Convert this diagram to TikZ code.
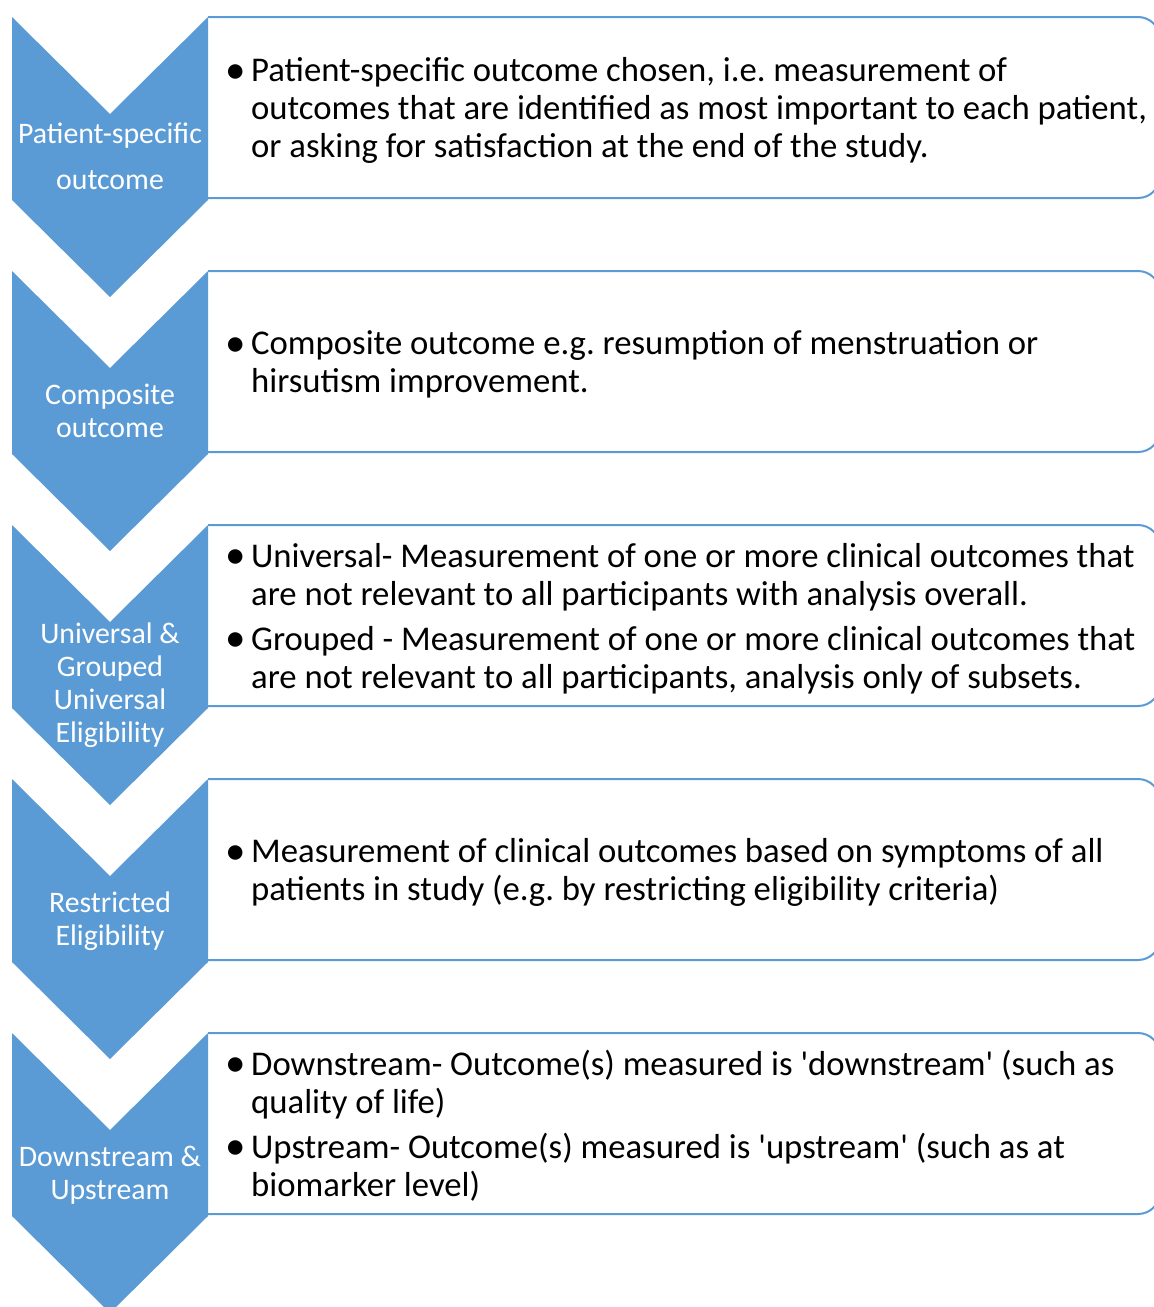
\documentclass[tikz,border=0pt]{standalone}
\usepackage{fontspec}
\setmainfont{Carlito}
\usepackage{xcolor}
\definecolor{stepblue}{RGB}{91,155,213}
\usetikzlibrary{positioning}

\newcommand{\bul}{\makebox[22pt][l]{\hspace{-4pt}\raisebox{-1.5pt}{\fontsize{41}{38}\selectfont\textbullet}}}

\tikzset{
  chevron/.style={fill=stepblue,draw=none},
  descframe/.style={draw=stepblue,line width=2pt,rounded corners=22pt},
  steplabel/.style={text=white,align=center,inner sep=0pt,
                    font=\fontsize{29.8}{33}\selectfont},
  desctext/.style={anchor=west,inner sep=0pt,
                   font=\fontsize{34.7}{38}\selectfont\frenchspacing}
}

\begin{document}
\begin{tikzpicture}[x=1pt,y=-1pt]
  \useasboundingbox (0,0) rectangle (1154,1307);
  \clip (0,0) rectangle (1154,1307);

  % chevrons and frames
  \foreach \t in {17,271,525,779,1033} {
    \fill[chevron] (12,\t) -- (110,\t+97) -- (208,\t) -- (208,\t+183)
      -- (110,\t+280) -- (12,\t+183) -- cycle;
    \draw[descframe] (208,\t) -- (1160,\t) -- (1160,\t+181) -- (208,\t+181);
  }

  % step labels
  \node[steplabel] (patient) at (110,156) {Patient-specific\\[13pt]outcome};
  \node[steplabel] (composite) at (110,411) {Composite\\outcome};
  \node[steplabel] (universal) at (110,685) {Universal \&\\Grouped\\Universal\\Eligibility};
  \node[steplabel] (restricted) at (110,921) {Restricted\\Eligibility};
  \node[steplabel] (downstream) at (110,1175) {Downstream \&\\Upstream};

  % descriptions
  \node[desctext] (patientdesc) at (229,112) {
    \begin{tabular}{@{}l@{}l@{}}
      \bul & Patient-specific outcome chosen, i.e. measurement of \\
      & outcomes that are identified as most important to each patient, \\
      & or asking for satisfaction at the end of the study.
    \end{tabular}
  };
  \node[desctext] (compositedesc) at (229,366) {
    \begin{tabular}{@{}l@{}l@{}}
      \bul & Composite outcome e.g. resumption of menstruation or \\
      & hirsutism improvement.
    \end{tabular}
  };
  \node[desctext] (universaldesc) at (229,620) {
    \begin{tabular}{@{}l@{}l@{}}
      \bul & Universal- Measurement of one or more clinical outcomes that \\
      & are not relevant to all participants with analysis overall. \\[7pt]
      \bul & Grouped - Measurement of one or more clinical outcomes that \\
      & are not relevant to all participants, analysis only of subsets.
    \end{tabular}
  };
  \node[desctext] (restricteddesc) at (229,874) {
    \begin{tabular}{@{}l@{}l@{}}
      \bul & Measurement of clinical outcomes based on symptoms of all \\
      & patients in study (e.g. by restricting eligibility criteria)
    \end{tabular}
  };
  \node[desctext] (downstreamdesc) at (229,1128) {
    \begin{tabular}{@{}l@{}l@{}}
      \bul & Downstream- Outcome(s) measured is \textquotesingle downstream\textquotesingle{} (such as \\
      & quality of life) \\[7pt]
      \bul & Upstream- Outcome(s) measured is \textquotesingle upstream\textquotesingle{} (such as at \\
      & biomarker level)
    \end{tabular}
  };
\end{tikzpicture}
\end{document}
